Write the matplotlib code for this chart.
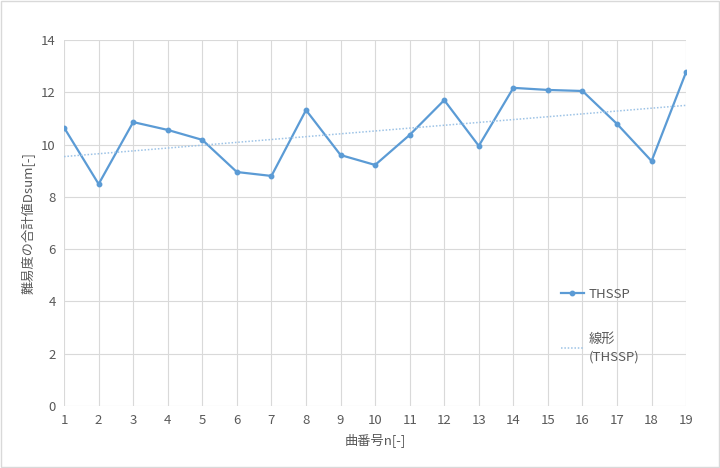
import numpy as np
import matplotlib.pyplot as plt

plt.rcParams['font.family'] = ['Noto Sans CJK JP', 'DejaVu Sans']

# データ
n = list(range(1, 20))
dsum = [10.65, 8.49, 10.86, 10.56, 10.18, 8.95, 8.80, 11.32, 9.60, 9.22,
        10.37, 11.70, 9.95, 12.17, 12.09, 12.05, 10.79, 9.37, 12.78]
series_name = 'THSSP'
trend_name = '線形\n(THSSP)'
xlabel = '曲番号n[-]'
ylabel = '難易度の合計値Dsum[-]'

fig = plt.figure(figsize=(7.2, 4.68), dpi=100)
ax = fig.add_axes([0.089, 0.1325, 0.864, 0.782])

# 線形近似
coef = np.polyfit(n, dsum, 1)
trend = np.polyval(coef, n)

ax.plot(n, dsum, color='#5B9BD5', lw=1.6, marker='o', ms=3.2, label=series_name)
ax.plot(n, trend, color='#9DC3E6', lw=1.1, ls=(0, (1, 1.2)), label=trend_name)

ax.set_xlim(1, 19)
ax.set_ylim(0, 14)
ax.set_xticks(n)
ax.set_yticks(range(0, 15, 2))
ax.grid(True, color='#D9D9D9', lw=0.8)
for s in ax.spines.values():
    s.set_visible(False)
ax.tick_params(length=0, colors='#595959', labelsize=9.5, pad=6)

ax.set_xlabel(xlabel, color='#595959', fontsize=9.5)
ax.set_ylabel(ylabel, color='#595959', fontsize=9.5)

leg = ax.legend(loc='upper left', bbox_to_anchor=(0.78, 0.355), frameon=False,
                fontsize=9.5, labelspacing=2.4, handlelength=1.7, handletextpad=0.4,
                labelcolor='#595959')
for t in leg.get_texts():
    t.set_linespacing(1.5)

# チャート枠
fig.patches.append(plt.Rectangle((0.002, 0.002), 0.996, 0.996, transform=fig.transFigure,
                                 fill=False, edgecolor='#D9D9D9', lw=1))

plt.savefig('out.png', dpi=100)
